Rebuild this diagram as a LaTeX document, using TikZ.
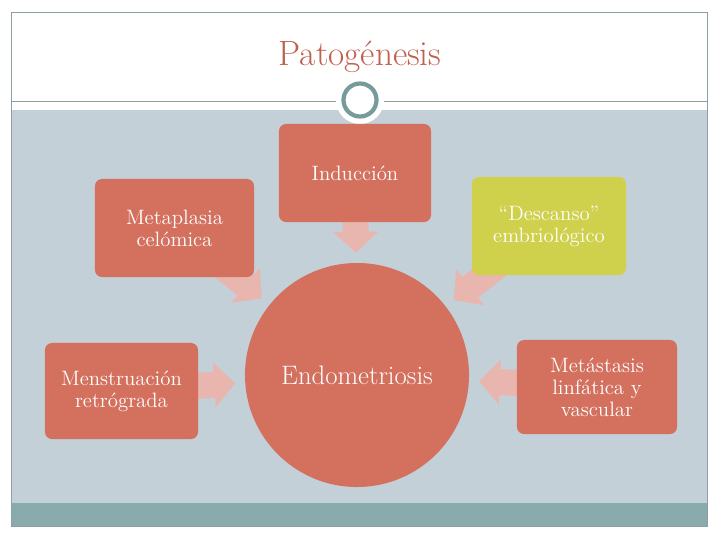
\documentclass[tikz,border=0pt]{standalone}
\usepackage{tikz}
\usetikzlibrary{arrows.meta, positioning}
\definecolor{mBox}{HTML}{D4705E}
\definecolor{mLime}{HTML}{CFD04B}
\definecolor{mPink}{HTML}{E8B6AE}
\definecolor{mBack}{HTML}{C4D0D8}
\definecolor{mTeal}{HTML}{8AABAC}
\definecolor{mRing}{HTML}{779A9A}
\definecolor{mTitle}{HTML}{C0614F}
\definecolor{mFrame}{HTML}{8E9FA4}
\pgfdeclarelayer{bg}
\pgfdeclarelayer{links}
\pgfsetlayers{bg,links,main}

\begin{document}
\begin{tikzpicture}[
    x=0.025cm, y=-0.025cm,
    box/.style={rectangle, rounded corners=5pt, fill=mBox, text=white, align=center,
                font=\fontsize{14.8}{15.6}\selectfont, inner sep=2pt},
    flow/.style={draw=mPink, line width=0.65cm,
                 -{Triangle[width=1.1cm,length=0.52cm]}, shorten >=0.25cm},
  ]
    \useasboundingbox (0,0) rectangle (720,540);

    % slide background
    \begin{pgfonlayer}{bg}
      \fill[white] (12,12) rectangle (708,527);
      \fill[mBack] (12,110) rectangle (708,503);
      \fill[mTeal] (12,503) rectangle (708,527);
      \draw[mFrame, line width=0.6pt] (11.5,12.5) rectangle (707.5,526.5);
      \draw[mFrame, line width=0.6pt] (11.5,101) -- (707.5,101);
    \end{pgfonlayer}

    % title and ring
    \node[font=\fontsize{25}{28}\selectfont, text=mTitle] (title) at (360,57) {Patogénesis};
    \fill[white] (360,100) circle (24);
    \draw[mRing, line width=3pt] (360,100) circle (16.5);

    % centre
    \node[circle, fill=mBox, text=white, minimum size=5.6cm, inner sep=0pt,
          font=\fontsize{19}{22}\selectfont] (endo) at (357,375) {Endometriosis};

    % causes
    \node[box, minimum width=3.8cm,  minimum height=2.45cm] (ind)  at (355,173)   {Inducción};
    \node[box, minimum width=3.975cm, minimum height=2.45cm] (met)  at (174.5,228) {Metaplasia\\celómica};
    \node[box, fill=mLime, minimum width=3.85cm, minimum height=2.45cm] (desc) at (549,226) {“Descanso”\\embriológico};
    \node[box, minimum width=3.825cm, minimum height=2.4cm]  (men)  at (121.5,391) {Menstruación\\retrógrada};
    \node[box, minimum width=4.0cm,  minimum height=2.35cm] (meta) at (597,387)   {Metástasis\\linfática y\\vascular};

    % arrows
    \begin{pgfonlayer}{links}
      \draw[flow] (ind.center)  -- (endo);
      \draw[flow] (met.center)  -- (endo);
      \draw[flow] (desc.center) -- (endo);
      \draw[flow] (men.center)  -- (endo);
      \draw[flow] (meta.center) -- (endo);
    \end{pgfonlayer}
  \end{tikzpicture}
\end{document}
